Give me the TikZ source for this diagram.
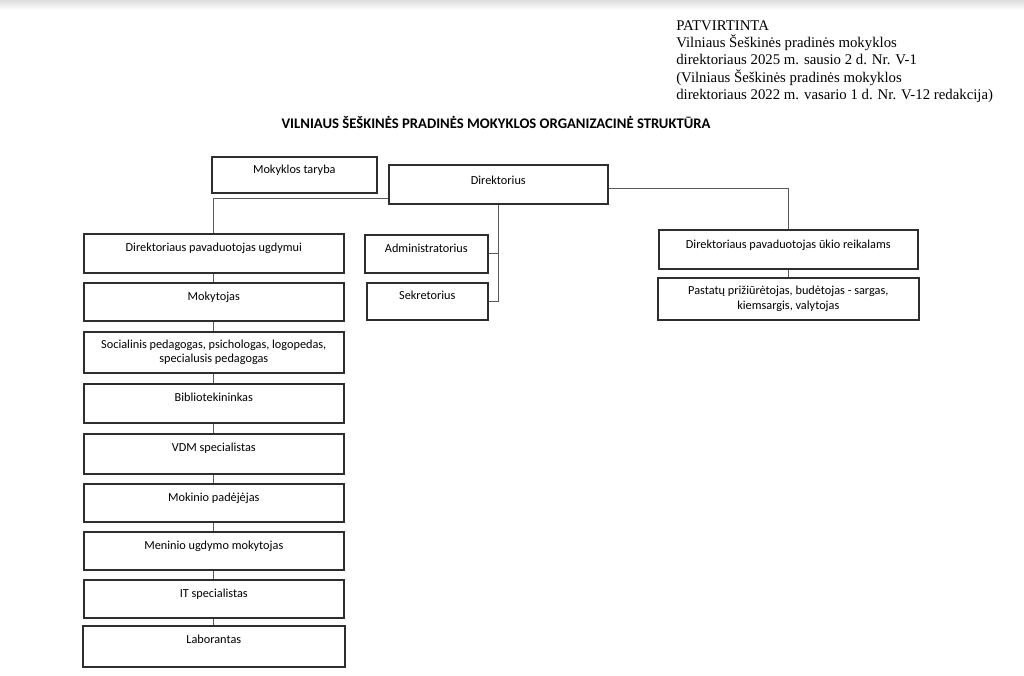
\documentclass[tikz,border=0pt]{standalone}
\usepackage{fontspec}
\setmainfont{Liberation Serif}
\newfontfamily\calib{Carlito}
\usetikzlibrary{positioning}

\def\px{0.75pt}
\tikzset{
  box/.style={draw=black!82, line width=1.2pt, inner sep=0pt, anchor=north west,
    font=\calib\fontsize{9.2}{11.2}\selectfont, text height=13.1pt, text depth=16.1pt},
  twobox/.style={draw=black!82, line width=1.2pt, inner sep=0pt, anchor=north west,
    align=center, font=\calib\fontsize{9.2}{11.2}\selectfont, minimum height=41*\px},
  wire/.style={draw=black!65, line width=1pt}
}

\begin{document}
\begin{tikzpicture}[x=0.75pt, y=-0.75pt]

\fill[white] (0,0) rectangle (1024,675);
\useasboundingbox (0,0) rectangle (1024,675);
\shade[top color=black!13, bottom color=white] (0,0) rectangle (1024,10);

% labels
\node[anchor=north west, align=left, inner sep=0pt, font=\fontsize{11.1}{13}\selectfont] (v16) at (676,20) {PATVIRTINTA\\
Vilniaus Šeškinės pradinės mokyklos\\
direktoriaus 2025 m. sausio 2 d. Nr. V-1\\
(Vilniaus Šeškinės pradinės mokyklos\\
direktoriaus 2022 m. vasario 1 d. Nr. V-12 redakcija)};

\node[font=\calib\bfseries\fontsize{11}{13}\selectfont] (v17) at (496,122) {VILNIAUS ŠEŠKINĖS PRADINĖS MOKYKLOS ORGANIZACINĖ STRUKTŪRA};

%% top boxes
\node[box, minimum width=165*\px, text height=12.4pt, text depth=14.6pt] (v1) at (211,156) {Mokyklos taryba};
\node[box, minimum width=219*\px, text height=14.6pt, text depth=14.6pt] (v2) at (388,164) {Direktorius};

%% left column
\node[box, minimum width=260*\px] (v3) at (83,233) {Direktoriaus pavaduotojas ugdymui};
\node[box, minimum width=260*\px, text depth=15.4pt] (v4) at (83,282) {Mokytojas};
\node[twobox, minimum width=260*\px] (v5) at (83,331) {Socialinis pedagogas, psichologas, logopedas,\\ specialusis pedagogas};
\node[box, minimum width=260*\px] (v6) at (83,383) {Bibliotekininkas};
\node[box, minimum width=260*\px, text depth=16.9pt] (v7) at (83,433) {VDM specialistas};
\node[box, minimum width=260*\px, text depth=15.4pt] (v8) at (83,483) {Mokinio padėjėjas};
\node[box, minimum width=260*\px, text depth=15.4pt] (v9) at (83,531) {Meninio ugdymo mokytojas};
\node[box, minimum width=260*\px, text depth=15.4pt] (v10) at (83,579) {IT specialistas};
\node[box, minimum width=262*\px, text depth=17.6pt] (v11) at (82,625) {Laborantas};

%% middle and right
\node[box, minimum width=123*\px, text depth=15.4pt] (v12) at (364,234) {Administratorius};
\node[box, minimum width=121*\px, text height=12.4pt, text depth=15.4pt] (v13) at (366,282) {Sekretorius};
\node[box, minimum width=259*\px, text height=13.9pt, text depth=15.4pt] (v14) at (658,229) {Direktoriaus pavaduotojas ūkio reikalams};
\node[twobox, minimum width=261*\px, minimum height=42*\px] (v15) at (657,277) {Pastatų prižiūrėtojas, budėtojas - sargas,\\ kiemsargis, valytojas};

%% wires
\draw[wire] (v2.south west) ++(0,-6) -| (v3.north);
\draw[wire] (v2.east) ++(0,4) -| (v14.north);
\draw[wire] (v2.south) |- (v12.east);
\draw[wire] (v2.south) |- (v13.east);
\draw[wire] (v14) -- (v15);

\draw[wire] (v3) -- (v4);
\draw[wire] (v4) -- (v5);
\draw[wire] (v5) -- (v6);
\draw[wire] (v6) -- (v7);
\draw[wire] (v7) -- (v8);
\draw[wire] (v8) -- (v9);
\draw[wire] (v9) -- (v10);
\draw[wire] (v10) -- (v11);
\end{tikzpicture}
\end{document}
